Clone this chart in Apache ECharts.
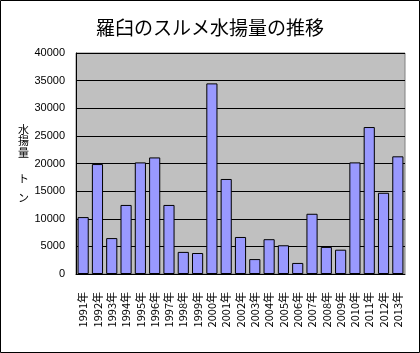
<!DOCTYPE html>
<html>
<head>
<meta charset="utf-8">
<script src="https://cdn.jsdelivr.net/npm/echarts@6/dist/echarts.min.js"></script>
<style>
html, body { margin: 0; padding: 0; background: #fff; }
#chart { width: 420px; height: 353px; }
</style>
</head>
<body>
<div id="chart"></div>
<script>
var years = ['1991年','1992年','1993年','1994年','1995年','1996年','1997年','1998年','1999年','2000年',
	'2001年','2002年','2003年','2004年','2005年','2006年','2007年','2008年','2009年','2010年',
	'2011年','2012年','2013年'];
var catch_t = [10300, 19900, 6500, 12500, 20200, 21100, 12500, 4000, 3800, 34500,
	17200, 6700, 2700, 6300, 5200, 2000, 10900, 4900, 4400, 20200,
	26600, 14700, 21300];
var yMin = 0, yMax = 40000, yStep = 5000;
var yTitle = ['水', '揚', '量', 'ト', 'ン'];

// vertical axis title, one glyph per line like the original
var nameY = [130, 141.5, 153, 179, 198];
var nameGraphics = yTitle.map(function (ch, i) {
	return {
		type: 'text',
		left: 18, top: nameY[i] - 6,
		style: { text: ch, font: '11px "Noto Sans CJK JP"', fill: '#000' }
	};
});

var chart = echarts.init(document.getElementById('chart'));
chart.setOption({
	animation: false,
	title: {
		text: '羅臼のスルメ水揚量の推移',
		left: 'center',
		top: 13,
		textStyle: { fontFamily: 'Noto Sans CJK JP', fontSize: 19, fontWeight: 'normal', color: '#000' }
	},
	graphic: [{
		type: 'rect',
		shape: { x: 0.5, y: 0.5, width: 419, height: 352 },
		style: { fill: 'none', stroke: '#000', lineWidth: 1 }
	}].concat(nameGraphics),
	grid: {
		left: 76, right: 15, top: 53, bottom: 79,
		show: true,
		backgroundColor: '#C0C0C0',
		borderColor: '#808080',
		borderWidth: 1
	},
	xAxis: {
		type: 'category',
		data: years,
		axisLine: { lineStyle: { color: '#000', width: 1 } },
		axisTick: { inside: true, length: 3, lineStyle: { color: '#000' } },
		axisLabel: {
			interval: 0, rotate: 90, margin: 18,
			fontFamily: 'Noto Sans CJK JP', fontSize: 11, color: '#000'
		}
	},
	yAxis: {
		type: 'value',
		min: yMin, max: yMax, interval: yStep,
		axisLine: { show: true, lineStyle: { color: '#000', width: 1 } },
		axisTick: { show: true, inside: true, length: 3, lineStyle: { color: '#000' } },
		axisLabel: {
			margin: 11, fontFamily: 'Liberation Sans', fontSize: 11, color: '#000',
			formatter: function (v) { return String(v); }
		},
		splitLine: { lineStyle: { color: '#000', width: 1 } }
	},
	series: [{
		type: 'bar',
		data: catch_t,
		barCategoryGap: '22%',
		itemStyle: { color: '#9999FF', borderColor: '#000', borderWidth: 1 }
	}]
});
</script>
</body>
</html>
